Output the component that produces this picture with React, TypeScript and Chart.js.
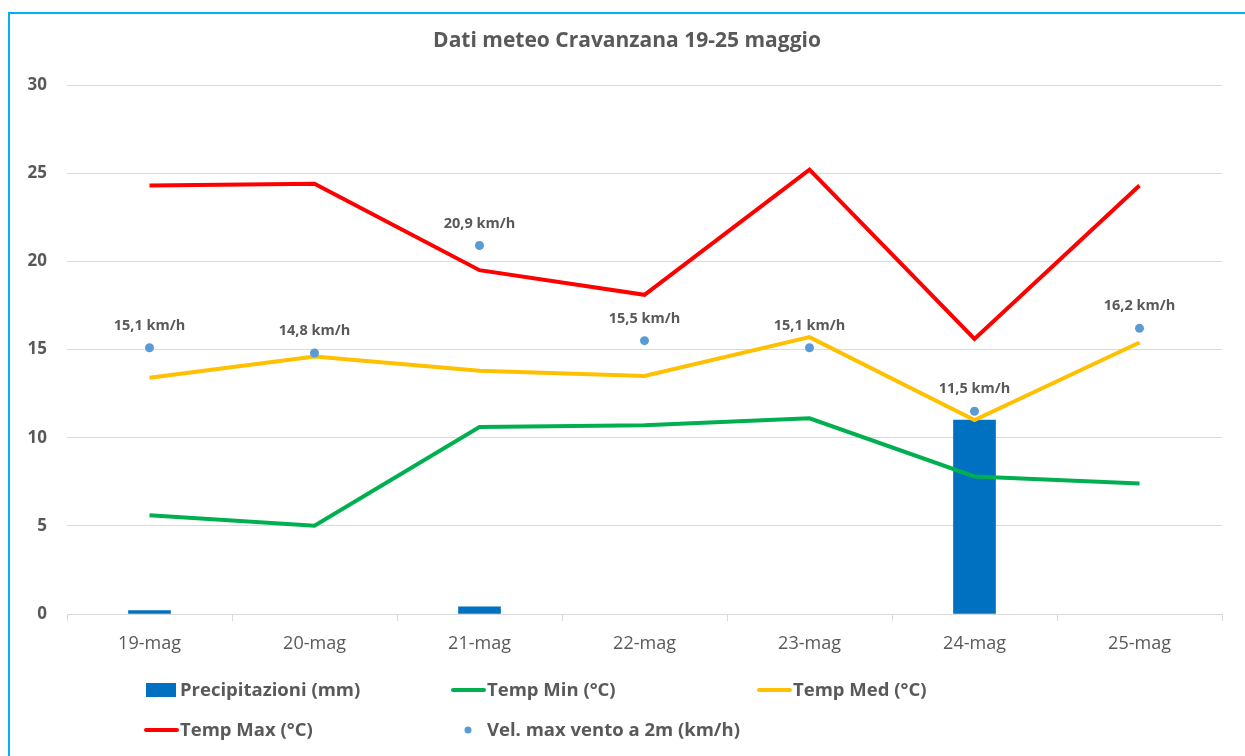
import React, { useEffect, useRef } from "react";
import { Chart, registerables } from "chart.js";

Chart.register(...registerables);

const chartTitle = "Dati meteo Cravanzana 19-25 maggio";
const categories = ["19-mag", "20-mag", "21-mag", "22-mag", "23-mag", "24-mag", "25-mag"];
const precipitazioni = [0.2, 0, 0.4, 0, 0, 11.0, 0];
const tempMin = [5.6, 5.0, 10.6, 10.7, 11.1, 7.8, 7.4];
const tempMed = [13.4, 14.6, 13.8, 13.5, 15.7, 11.0, 15.4];
const tempMax = [24.3, 24.4, 19.5, 18.1, 25.2, 15.6, 24.3];
const ventoMax = [15.1, 14.8, 20.9, 15.5, 15.1, 11.5, 16.2];
const seriesNames = [
  "Precipitazioni (mm)",
  "Temp Min (°C)",
  "Temp Med (°C)",
  "Temp Max (°C)",
  "Vel. max vento a 2m (km/h)",
];
const yMin = 0;
const yMax = 30;
const yStep = 5;

const TEXT = "#595959";
const FONT = "'Open Sans', 'DejaVu Sans', sans-serif";
const BAR_COLOR = "#0070C0";

const overlayPlugin = {
  id: "overlay",
  afterDatasetsDraw(chart: any) {
    const ctx = chart.ctx;
    const meta = chart.getDatasetMeta(4);
    ctx.save();
    ctx.fillStyle = TEXT;
    ctx.font = `bold 14.5px ${FONT}`;
    ctx.textAlign = "center";
    ctx.textBaseline = "middle";
    meta.data.forEach((pt: any, i: number) => {
      const label = ventoMax[i].toFixed(1).replace(".", ",") + " km/h";
      ctx.fillText(label, pt.x, pt.y - 22);
    });
    ctx.restore();
  },
  afterDraw(chart: any) {
    const ctx = chart.ctx;
    ctx.save();
    ctx.fillStyle = TEXT;
    ctx.font = `bold 21px ${FONT}`;
    ctx.textAlign = "center";
    ctx.textBaseline = "middle";
    ctx.fillText(chartTitle, 627, 41);

    ctx.font = `bold 18.5px ${FONT}`;
    ctx.textAlign = "left";
    ctx.textBaseline = "middle";
    const ds = chart.data.datasets;
    const items = [
      { kind: "box", x: 146, y: 690, text: seriesNames[0], color: BAR_COLOR, tx: 180 },
      { kind: "line", x: 453, y: 690, text: seriesNames[1], color: ds[1].borderColor, tx: 487 },
      { kind: "line", x: 759, y: 690, text: seriesNames[2], color: ds[2].borderColor, tx: 793 },
      { kind: "line", x: 146, y: 730, text: seriesNames[3], color: ds[3].borderColor, tx: 180 },
      { kind: "dot", x: 468, y: 730, text: seriesNames[4], color: ds[4].backgroundColor, tx: 487 },
    ];
    items.forEach((it) => {
      if (it.kind === "box") {
        ctx.fillStyle = it.color;
        ctx.fillRect(it.x, it.y - 7, 30, 14);
      } else if (it.kind === "line") {
        ctx.strokeStyle = it.color;
        ctx.lineWidth = 4;
        ctx.lineCap = "round";
        ctx.beginPath();
        ctx.moveTo(it.x, it.y);
        ctx.lineTo(it.x + 31, it.y);
        ctx.stroke();
      } else {
        ctx.fillStyle = it.color;
        ctx.beginPath();
        ctx.arc(it.x, it.y, 3.5, 0, Math.PI * 2);
        ctx.fill();
      }
      ctx.fillStyle = TEXT;
      ctx.fillText(it.text, it.tx, it.y + 1);
    });
    ctx.restore();
  },
};

export default function App() {
  const ref = useRef<HTMLCanvasElement | null>(null);

  useEffect(() => {
    if (!ref.current) return;
    const chart = new Chart(ref.current, {
      type: "bar",
      data: {
        labels: categories,
        datasets: [
          {
            type: "bar",
            label: seriesNames[0],
            data: precipitazioni,
            backgroundColor: (c: any) => (c.raw ? BAR_COLOR : "rgba(0,0,0,0)"),
            borderWidth: 0,
            barThickness: 42,
            order: 5,
          } as any,
          {
            type: "line",
            label: seriesNames[1],
            data: tempMin,
            borderColor: "#00B050",
            backgroundColor: "#00B050",
            borderWidth: 4,
            pointRadius: 0,
            tension: 0,
            order: 3,
          },
          {
            type: "line",
            label: seriesNames[2],
            data: tempMed,
            borderColor: "#FFC000",
            backgroundColor: "#FFC000",
            borderWidth: 4,
            pointRadius: 0,
            tension: 0,
            order: 2,
          },
          {
            type: "line",
            label: seriesNames[3],
            data: tempMax,
            borderColor: "#FF0000",
            backgroundColor: "#FF0000",
            borderWidth: 4,
            pointRadius: 0,
            tension: 0,
            order: 1,
          },
          {
            type: "line",
            label: seriesNames[4],
            data: ventoMax,
            showLine: false,
            borderColor: "#5B9BD5",
            backgroundColor: "#5B9BD5",
            pointRadius: 4.5,
            pointBorderWidth: 0,
            order: 0,
          },
        ],
      },
      options: {
        responsive: false,
        animation: false,
        events: [],
        layout: { padding: { left: 0, right: 23, top: 85, bottom: 82 } },
        plugins: {
          legend: { display: false },
          title: { display: false },
          tooltip: { enabled: false },
        },
        scales: {
          x: {
            offset: true,
            grid: {
              offset: true,
              drawOnChartArea: false,
              drawTicks: true,
              tickLength: 7,
              color: "#D9D9D9",
            },
            border: { display: true, color: "#D9D9D9", width: 1 },
            ticks: {
              color: TEXT,
              font: { family: FONT, size: 18 },
              padding: 12,
              maxRotation: 0,
            },
            afterFit: (scale: any) => {
              scale.height = 60;
            },
          },
          y: {
            min: yMin,
            max: yMax,
            ticks: {
              stepSize: yStep,
              color: TEXT,
              font: { family: FONT, size: 17, weight: "bold" },
              padding: 20,
            },
            grid: { color: "#D9D9D9", drawTicks: false, lineWidth: 1 },
            border: { display: false },
            afterFit: (scale: any) => {
              scale.width = 67;
            },
          },
        },
      },
      plugins: [overlayPlugin],
    });
    return () => chart.destroy();
  }, []);

  return (
    <div style={{ position: "fixed", left: 0, top: 0, width: 1245, height: 756, background: "#fff", overflow: "hidden" }}>
      <div
        style={{
          position: "absolute",
          left: 8,
          top: 12,
          width: 1245,
          height: 760,
          borderTop: "2px solid #00B0F0",
          borderLeft: "2px solid #00B0F0",
          boxSizing: "border-box",
        }}
      />
      <canvas ref={ref} width={1245} height={756} style={{ position: "absolute", left: 0, top: 0 }} />
    </div>
  );
}
